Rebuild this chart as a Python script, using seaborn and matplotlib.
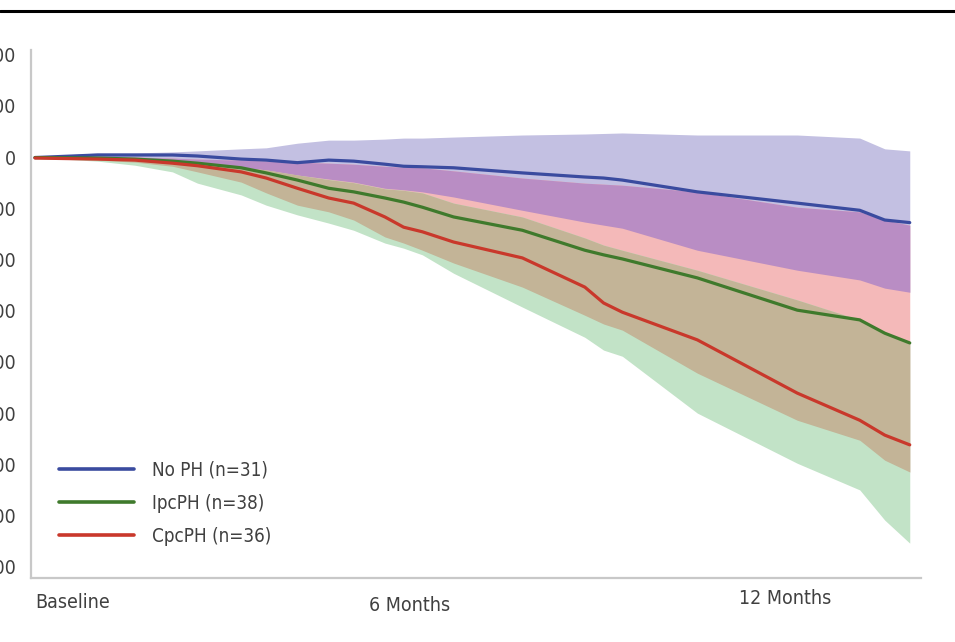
import numpy as np
import pandas as pd
import matplotlib
matplotlib.use("Agg")
import matplotlib.pyplot as plt
from matplotlib.lines import Line2D
from matplotlib.transforms import ScaledTranslation
import seaborn as sns

# Follow-up time (months after baseline)
months = [0, 1.0, 1.6, 2.2, 2.6, 3.3, 3.7, 4.2, 4.7, 5.1, 5.6, 5.9, 6.2, 6.7,
          7.8, 8.8, 9.1, 9.4, 10.6, 12.2, 13.2, 13.6, 14.0]

# No PH: mean change and confidence band
no_ph_mean = [-1, 4, 4, 4, 2, -4, -6, -11, -6, -8, -14, -18, -19, -21,
              -31, -39, -41, -45, -68, -90, -104, -123, -128]
no_ph_hi = [0, 8, 8, 10, 12, 16, 18, 27, 33, 33, 35, 37, 37, 39,
            43, 45, 46, 47, 43, 43, 37, 16, 12]
no_ph_lo = [-1, -2, -4, -8, -12, -20, -25, -35, -43, -49, -61, -64, -68, -78,
            -104, -127, -133, -139, -182, -221, -240, -256, -264]

# IpcPH: mean change and confidence band
ipc_mean = [-1, -2, -4, -8, -12, -21, -31, -45, -61, -68, -80, -88, -98, -117,
            -143, -182, -191, -199, -236, -299, -318, -344, -363]
ipc_hi = [-1, 0, 0, -2, -4, -6, -8, -10, -12, -14, -18, -20, -21, -27,
          -41, -51, -53, -55, -68, -98, -107, -123, -133]
ipc_lo = [-1, -6, -10, -18, -29, -49, -70, -94, -107, -123, -156, -168, -182, -207,
          -254, -309, -326, -338, -422, -514, -553, -592, -615]

# CpcPH: mean change and confidence band
cpc_mean = [-2, -4, -6, -12, -17, -29, -41, -61, -80, -90, -117, -137, -146, -166,
            -197, -254, -285, -303, -357, -461, -514, -543, -562]
cpc_hi = [-1, -2, -4, -8, -12, -20, -25, -35, -44, -50, -62, -65, -70, -90,
          -117, -158, -172, -182, -221, -279, -318, -344, -361]
cpc_lo = [-1, -8, -16, -29, -51, -74, -94, -113, -129, -143, -168, -178, -191, -227,
          -293, -352, -377, -389, -500, -598, -650, -709, -754]

groups = ["No PH (n=31)", "IpcPH (n=38)", "CpcPH (n=36)"]
line_colors = ["#3a4b9f", "#3f7a2c", "#c9382b"]

y_ticks = [200, 100, 0, -100, -200, -300, -400, -500, -600, -700, -800]
x_tick_pos = [0, 6, 12]
x_tick_labels = ["Baseline", "6 Months", "12 Months"]

sns.set_theme(style="white")
plt.rcParams["font.family"] = ["DejaVu Sans"]
plt.rcParams["font.stretch"] = "condensed"

W, H = 955, 642
fig = plt.figure(figsize=(W / 100, H / 100), dpi=100)
ax = fig.add_axes([31 / W, 1 - 578 / H, (921 - 31) / W, (578 - 50) / H])

x = np.array(months, dtype=float)
nb_hi, nb_lo = np.array(no_ph_hi, float), np.array(no_ph_lo, float)
ip_hi, ip_lo = np.array(ipc_hi, float), np.array(ipc_lo, float)
cp_hi, cp_lo = np.array(cpc_hi, float), np.array(cpc_lo, float)

# Confidence bands
ax.fill_between(x, nb_lo, nb_hi, color="#c3c0e2", lw=0, zorder=1)
ax.fill_between(x, ip_lo, ip_hi, color="#f4b9b9", lw=0, zorder=1)
ax.fill_between(x, cp_lo, cp_hi, color="#c2e3c7", lw=0, zorder=1)

# Overlapping parts of the bands
top = np.minimum(nb_hi, ip_hi)
bot = np.maximum(nb_lo, ip_lo)
ax.fill_between(x, bot, top, where=top > bot, interpolate=True,
                color="#b98dc4", lw=0, zorder=1.2)
top = np.minimum(ip_hi, cp_hi)
bot = np.maximum(ip_lo, cp_lo)
ax.fill_between(x, bot, top, where=top > bot, interpolate=True,
                color="#c3b497", lw=0, zorder=1.2)

# Mean lines
df = pd.concat([
    pd.DataFrame({"month": months, "change": no_ph_mean, "group": groups[0]}),
    pd.DataFrame({"month": months, "change": ipc_mean, "group": groups[1]}),
    pd.DataFrame({"month": months, "change": cpc_mean, "group": groups[2]}),
])
sns.lineplot(data=df, x="month", y="change", hue="group", hue_order=groups,
             palette=line_colors, linewidth=2.3, legend=False, ax=ax, zorder=3)

ax.set_xlim(-0.064, 14.18)
ax.set_ylim(-822, 209)
ax.set_xlabel("")
ax.set_ylabel("")

ax.set_yticks(y_ticks)
ax.set_yticklabels([str(v) for v in y_ticks])
ax.tick_params(axis="y", length=0, pad=11, labelsize=14, labelcolor="#404040")
ax.set_xticks(x_tick_pos)
ax.set_xticklabels(x_tick_labels)
ax.tick_params(axis="x", length=0, pad=11, labelsize=14, labelcolor="#404040")

labels = ax.get_xticklabels()
labels[0].set_horizontalalignment("left")
shifts = [0, -3, 4]
for lab, s in zip(labels, shifts):
    lab.set_transform(lab.get_transform() +
                      ScaledTranslation(0, s / 100, fig.dpi_scale_trans))

for side in ["top", "right"]:
    ax.spines[side].set_visible(False)
for side in ["left", "bottom"]:
    ax.spines[side].set_color("#c8c8c8")
    ax.spines[side].set_linewidth(1.6)

handles = [Line2D([], [], color=c, lw=2.6) for c in line_colors]
leg = ax.legend(handles, groups, loc="upper left", bbox_to_anchor=(0.013, 0.254),
                frameon=False, fontsize=13.5, handlelength=4.0, handletextpad=0.95,
                labelspacing=0.75)
for t in leg.get_texts():
    t.set_color("#404040")

# Rule across the top of the figure
fig.add_artist(Line2D([0, 1], [1 - 11 / H, 1 - 11 / H], transform=fig.transFigure,
                      color="black", lw=2.2))

fig.savefig("out.png", dpi=100)
